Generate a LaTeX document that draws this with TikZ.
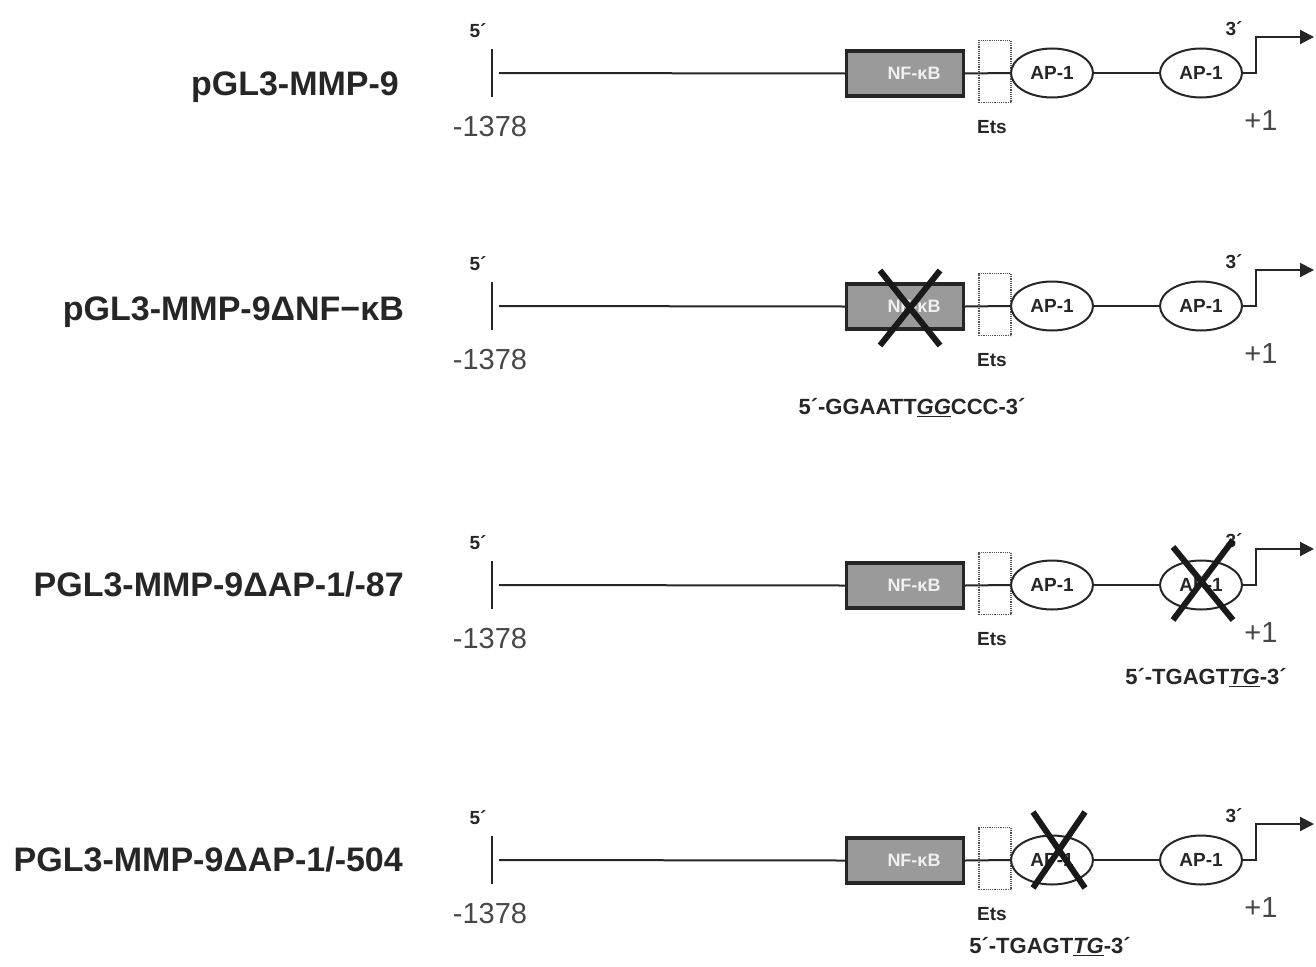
\documentclass[tikz,border=0pt]{standalone}
\usepackage{fontspec}
\setmainfont{Liberation Sans}
\usetikzlibrary{arrows.meta,shapes.geometric}
\definecolor{ink}{HTML}{262626}
\definecolor{boxgray}{HTML}{9A9A9A}
\tikzset{
  every node/.style={inner sep=0pt, text=ink},
  dna/.style={line width=2pt, draw=ink},
  tickline/.style={line width=2pt, draw=ink},
  nfbox/.style={draw=ink, line width=3.4pt, fill=boxgray, minimum width=117pt, minimum height=45pt,
    font=\bfseries\fontsize{18}{18}\selectfont, text=gray!12},
  etsbox/.style={draw=ink!80, densely dotted, line width=1.2pt, minimum width=32pt, minimum height=62pt},
  apell/.style={draw=ink, ellipse, line width=2pt, fill=white, minimum width=82pt, minimum height=49pt,
    font=\bfseries\fontsize{19}{19}\selectfont},
  constructlabel/.style={anchor=east, font=\bfseries\fontsize{34}{34}\selectfont},
  poslabel/.style={font=\fontsize{29}{29}\selectfont, text=ink!85},
  smalllabel/.style={font=\bfseries\fontsize{19}{19}\selectfont},
  seqlabel/.style={font=\bfseries\fontsize{22}{22}\selectfont},
  crossline/.style={line width=6pt, draw=black!90},
  tssarrow/.style={line width=2pt, draw=ink, -{Triangle[length=14pt,width=14pt]}}
}
\newcommand\promoterrow[2]{%
  \coordinate (#1ta) at (492,{#2-24});
  \coordinate (#1tb) at (492,{#2+24});
  \coordinate (#1s) at (499,#2);
  \node[nfbox] (#1nf) at (905,{#2+0.5}) {\hspace*{18pt}NF-κB};
  \node[etsbox] (#1ets) at (995,{#2-1.5}) {};
  \node[apell] (#1apa) at (1052,#2) {AP-1};
  \node[apell] (#1apb) at (1201,#2) {AP-1};
  \coordinate (#1end) at (1314,{#2-36});
  \draw[tickline] (#1ta) -- (#1tb);
  \draw[dna] (#1s) -- (#1nf.west);
  \draw[dna] (#1nf.east) -- (#1apa.west);
  \draw[dna] (#1apa.east) -- (#1apb.west);
  \draw[tssarrow] (#1apb.east) -- ++(13,0) |- (#1end);
  \node[smalllabel] (#1five) at (478,{#2-42}) {5´};
  \node[poslabel] (#1pos) at (490,{#2+54}) {-1378};
  \node[smalllabel] (#1etsl) at (992,{#2+54}) {Ets};
  \node[smalllabel] (#1three) at (1234,{#2-44}) {3´};
  \node[poslabel] (#1plus) at (1261,{#2+48}) {+1};
}
\begin{document}
\begin{tikzpicture}[x=1pt,y=-1pt]
\useasboundingbox (0,0) rectangle (1316,966);

% row 1
\promoterrow{ra}{73}
\node[constructlabel] (la) at (399,87) {pGL3-MMP-9};

% row 2
\promoterrow{rb}{306}
\node[constructlabel] (lb) at (404,312) {pGL3-MMP-9ΔNF−κB};
\draw[crossline] ([shift={(-25,-36)}]rbnf.center) -- ([shift={(35,39)}]rbnf.center);
\draw[crossline] ([shift={(35,-36)}]rbnf.center) -- ([shift={(-25,39)}]rbnf.center);
\node[seqlabel] (sb) at (912,408) {5´-GGAATT\underline{\itshape GG}CCC-3´};

% row 3
\promoterrow{rc}{585}
\node[constructlabel] (lc) at (404,585) {PGL3-MMP-9ΔAP-1/-87};
\draw[crossline] ([shift={(-28,-38)}]rcapb.center) -- ([shift={(32,35)}]rcapb.center);
\draw[crossline] ([shift={(32,-45)}]rcapb.center) -- ([shift={(-28,35)}]rcapb.center);
\node[seqlabel] (sc) at (1206,678) {5´-TGAGT\underline{\itshape TG}-3´};

% row 4
\promoterrow{rd}{860}
\node[constructlabel] (ld) at (403,860) {PGL3-MMP-9ΔAP-1/-504};
\draw[crossline] ([shift={(-19,-48)}]rdapa.center) -- ([shift={(33,28)}]rdapa.center);
\draw[crossline] ([shift={(33,-48)}]rdapa.center) -- ([shift={(-19,28)}]rdapa.center);
\node[seqlabel] (sd) at (1050,947) {5´-TGAGT\underline{\itshape TG}-3´};
\end{tikzpicture}
\end{document}
